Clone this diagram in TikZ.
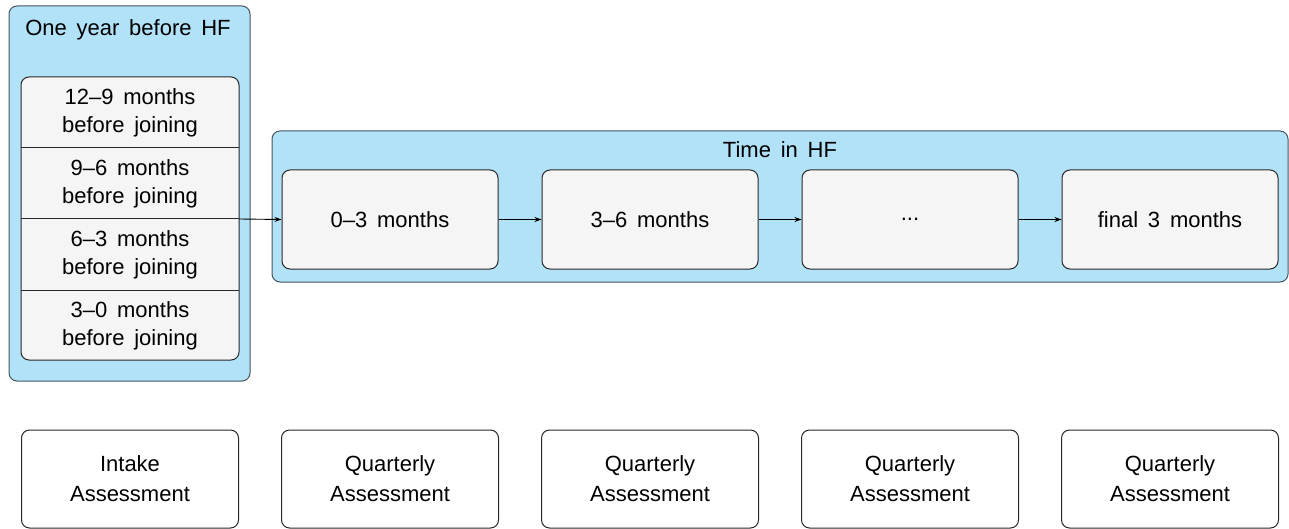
\documentclass[tikz,border=0pt]{standalone}
\usepackage{fontspec}
\setmainfont{Liberation Sans}[WordSpace=1.6]
\usetikzlibrary{arrows.meta}
\definecolor{groupfill}{RGB}{177,226,247}
\definecolor{groupline}{RGB}{70,84,96}
\definecolor{cellfill}{RGB}{245,245,245}
\definecolor{cellline}{RGB}{40,40,40}
\tikzset{
  txt/.style={font=\fontsize{22}{28}\selectfont, align=center, text=black},
  twotxt/.style={font=\fontsize{22}{30}\selectfont, align=center, text=black},
  group/.style={draw=groupline, fill=groupfill, line width=1pt, rounded corners=8pt},
  cell/.style={draw=cellline, fill=cellfill, line width=1pt, rounded corners=8pt},
  plainbox/.style={draw=cellline, fill=white, line width=1pt, rounded corners=8pt},
  flow/.style={draw=black, line width=0.9pt, -{Stealth[length=7pt,width=5pt]}}
}
\begin{document}
\begin{tikzpicture}[x=1pt,y=-1pt]
\useasboundingbox (0,0) rectangle (1289,529);

% group of the year before joining
\draw[group] (9,6) rectangle (250,381);
\node[txt] (pretitle) at (128,30) {One year before HF};
\draw[cell] (21,77) rectangle (239,360);
\draw[cellline, line width=1pt] (21,148) -- (239,148);
\draw[cellline, line width=1pt] (21,219) -- (239,219);
\draw[cellline, line width=1pt] (21,290) -- (239,290);
\coordinate (pre) at (239,219);
\node[txt] (q1) at (130,113) {12–9 months\\before joining};
\node[txt] (q2) at (130,184) {9–6 months\\before joining};
\node[txt] (q3) at (130,255) {6–3 months\\before joining};
\node[txt] (q4) at (130,326) {3–0 months\\before joining};

% group of the time spent in HF
\draw[group] (272,131) rectangle (1288,282);
\node[txt] (intitle) at (780,150) {Time in HF};
\node[cell, txt, minimum width=216pt, minimum height=99pt] (m1) at (390,219.5) {0–3 months};
\node[cell, txt, minimum width=216pt, minimum height=99pt] (m2) at (650,219.5) {3–6 months};
\node[cell, txt, minimum width=216pt, minimum height=99pt] (m3) at (910,219.5) {...};
\node[cell, txt, minimum width=216pt, minimum height=99pt] (m4) at (1170,219.5) {final 3 months};

\draw[flow] (pre) -- (m1.west);
\draw[flow] (m1) -- (m2);
\draw[flow] (m2) -- (m3);
\draw[flow] (m3) -- (m4);

% assessments
\node[plainbox, twotxt, minimum width=217pt, minimum height=98pt] (a1) at (130,479) {Intake\\Assessment};
\node[plainbox, twotxt, minimum width=217pt, minimum height=98pt] (a2) at (390,479) {Quarterly\\Assessment};
\node[plainbox, twotxt, minimum width=217pt, minimum height=98pt] (a3) at (650,479) {Quarterly\\Assessment};
\node[plainbox, twotxt, minimum width=217pt, minimum height=98pt] (a4) at (910,479) {Quarterly\\Assessment};
\node[plainbox, twotxt, minimum width=217pt, minimum height=98pt] (a5) at (1170,479) {Quarterly\\Assessment};
\end{tikzpicture}
\end{document}
